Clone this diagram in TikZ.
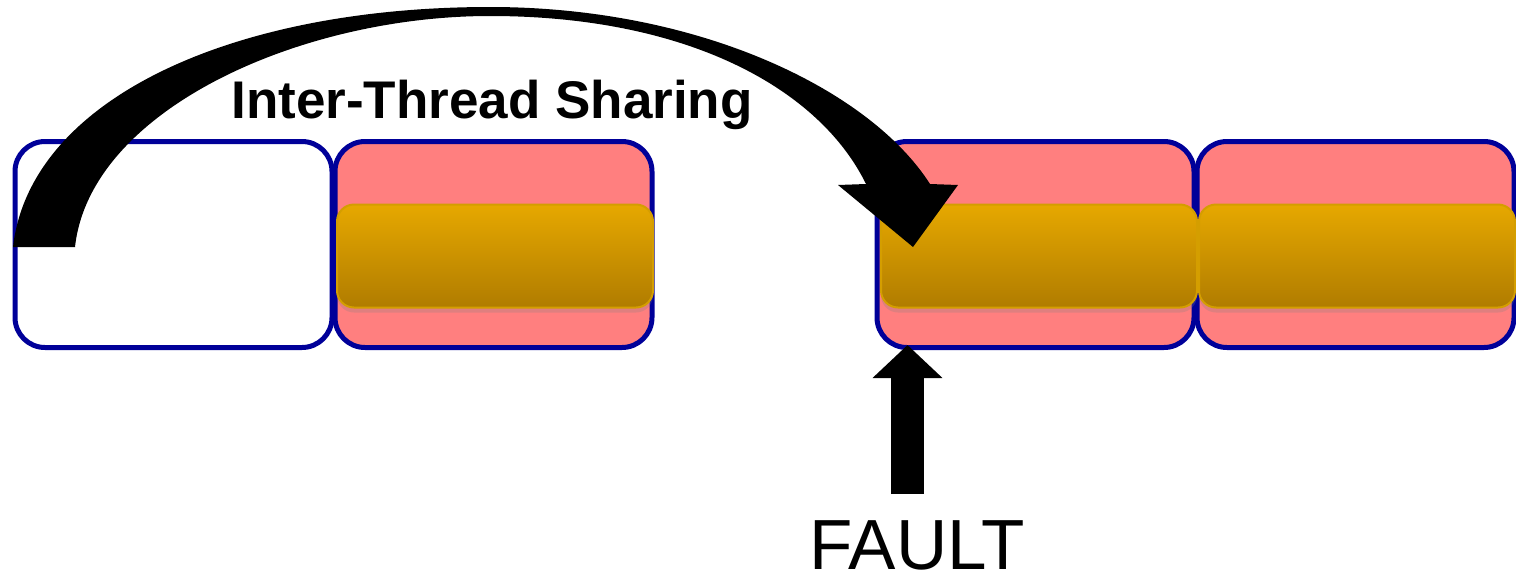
\documentclass[tikz,border=0pt]{standalone}
\usepackage{fontspec}
\setmainfont{Liberation Sans}
\usetikzlibrary{arrows.meta,shadows}

\definecolor{pageblue}{HTML}{000099}
\definecolor{pagepink}{HTML}{FF7F7F}
\definecolor{goldtop}{HTML}{E6A800}
\definecolor{goldbot}{HTML}{B07C00}
\definecolor{goldedge}{HTML}{D49E00}

\begin{document}
\begin{tikzpicture}[x=1pt, y={(0pt,-1pt)},
  pagebox/.style={draw=pageblue, line width=5pt, rounded corners=30pt,
    minimum width=317pt, minimum height=206pt, inner sep=0pt},
  linebar/.style={draw=goldedge, line width=2pt, rounded corners=17pt,
    top color=goldtop, bottom color=goldbot,
    minimum width=316pt, minimum height=103pt, inner sep=0pt,
    drop shadow={shadow xshift=0pt, shadow yshift=-5pt, opacity=0.25}}]
  \useasboundingbox (0,0) rectangle (1516,579);
  % Pages of the two threads.
  \node[pagebox, fill=white]    (p1) at (173.5,244.5) {};
  \node[pagebox, fill=pagepink] (p2) at (493.5,244.5) {};
  \node[pagebox, fill=pagepink] (p3) at (1035.5,244.5) {};
  \node[pagebox, fill=pagepink] (p4) at (1355.5,244.5) {};
  % Shared lines inside the pages.
  \node[linebar] (l2) at (495,256)  {};
  \node[linebar] (l3) at (1039,256) {};
  \node[linebar] (l4) at (1357,256) {};
  % Label over the arc.
  \node[font=\bfseries\fontsize{53}{60}\selectfont, anchor=base, inner sep=0pt]
    (share) at (492,118.5) {Inter-Thread Sharing};
  % Tapered curved arrow from the first page into the shared line.
  \fill (13,247) .. controls (30,100) and (230,7) .. (490,7)
    .. controls (700,7) and (870,90) .. (930,184)
    -- (958,185) -- (913,247) -- (838,185) -- (866,184)
    .. controls (820,90) and (690,16) .. (490,16)
    .. controls (300,16) and (90,110) .. (75,247) -- cycle;
  % Fault and its arrow.
  \node[font=\fontsize{71}{80}\selectfont, anchor=base, inner sep=0pt]
    (fault) at (917,569) {FAULT};
  \coordinate (tail) at (907.5,494);
  \coordinate (hit)  at (907.5,345);
  \draw[line width=33pt, -{Triangle[width=68pt,length=33pt]}] (tail) -- (hit);
\end{tikzpicture}
\end{document}
